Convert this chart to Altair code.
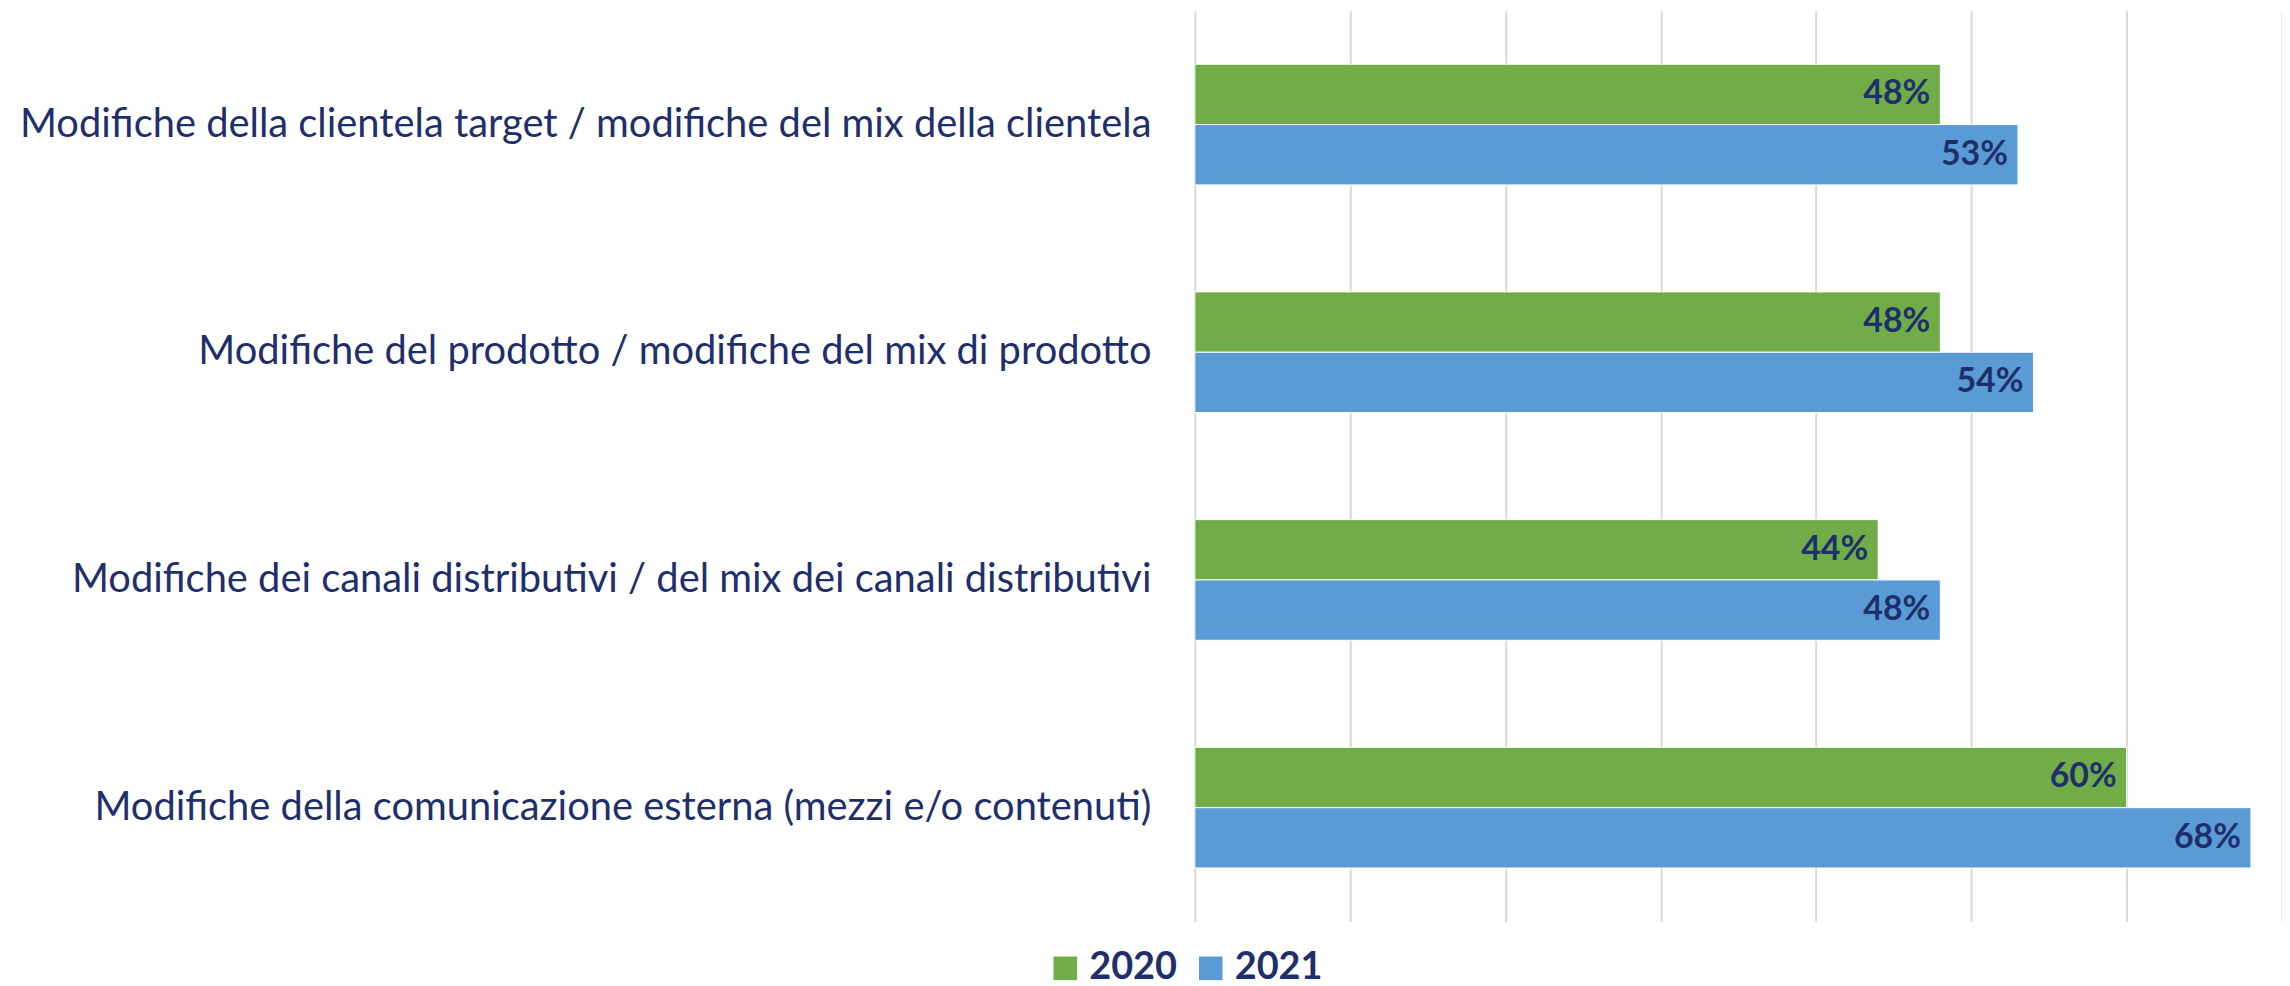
import altair as alt
import pandas as pd

categories = [
    "Modifiche della clientela target / modifiche del mix della clientela",
    "Modifiche del prodotto / modifiche del mix di prodotto",
    "Modifiche dei canali distributivi / del mix dei canali distributivi",
    "Modifiche della comunicazione esterna (mezzi e/o contenuti)",
]
years = ["2020", "2021"]
v2020 = [0.48, 0.48, 0.44, 0.60]
v2021 = [0.53, 0.54, 0.48, 0.68]
colors = ["#70AD47", "#5B9BD5"]

rows = []
for c, a, b in zip(categories, v2020, v2021):
    rows.append({"cat": c, "year": "2020", "value": a})
    rows.append({"cat": c, "year": "2021", "value": b})
df = pd.DataFrame(rows)

NAVY = "#1F2F6B"
FONT = "Lato"

y_enc = alt.Y(
    "cat:N",
    sort=categories,
    title=None,
    scale=alt.Scale(paddingInner=0.47, paddingOuter=0.235),
    axis=alt.Axis(
        ticks=False, domain=False, grid=False, labelFontSize=40, labelFont=FONT,
        labelColor=NAVY, labelLimit=1300, labelPadding=44,
    ),
)
x_enc = alt.X(
    "value:Q",
    title=None,
    scale=alt.Scale(domain=[0, 0.7], nice=False),
    axis=alt.Axis(
        values=[0, 0.1, 0.2, 0.3, 0.4, 0.5, 0.6, 0.7], labels=False, ticks=False,
        domain=False, grid=True, gridColor="#D9D9D9", gridWidth=2,
    ),
)
yoff = alt.YOffset("year:N", sort=years, scale=alt.Scale(paddingInner=0, paddingOuter=0))

bars = alt.Chart(df).mark_bar(stroke="white", strokeWidth=1).encode(
    x=x_enc,
    y=y_enc,
    yOffset=yoff,
    color=alt.Color(
        "year:N",
        sort=years,
        scale=alt.Scale(domain=years, range=colors),
        legend=alt.Legend(
            title=None, orient="none", direction="horizontal", legendX=-149, legendY=942,
            symbolType="square", symbolSize=560, symbolStrokeWidth=0,
            labelFontSize=38, labelFont=FONT, labelFontWeight="bold", labelColor=NAVY,
            columnPadding=14, labelOffset=5,
        ),
    ),
)

labels = alt.Chart(df).mark_text(
    align="right", baseline="middle", dx=-10, fontSize=34, font=FONT,
    fontWeight="bold", color=NAVY,
).encode(
    x=alt.X("value:Q"),
    y=alt.Y("cat:N", sort=categories),
    yOffset=yoff,
    text=alt.Text("value:Q", format=".0%"),
)

chart = (
    alt.layer(bars, labels)
    .properties(
        width=1091, height=914,
        autosize=alt.AutoSizeParams(type="none"),
        padding={"left": 1191, "top": 1, "right": 0, "bottom": 64},
        background="white",
    )
    .configure_view(stroke=None)
)

chart.save("out.html", embed_options={"renderer": "svg", "actions": False})
